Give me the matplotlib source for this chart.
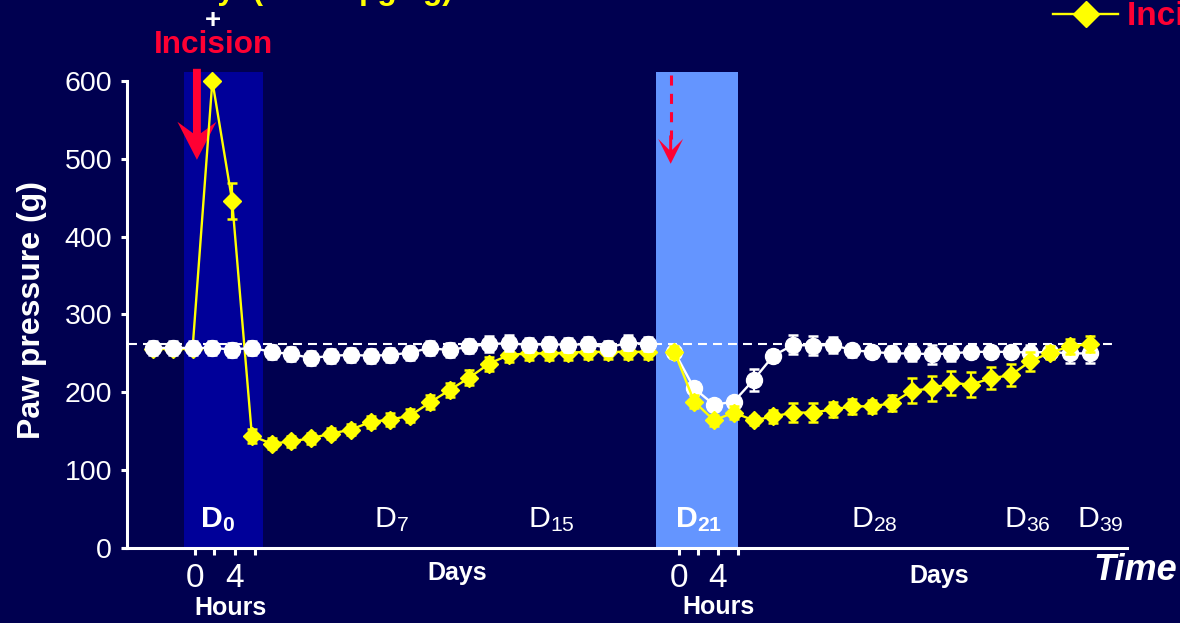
import numpy as np
import matplotlib.pyplot as plt
from matplotlib.patches import FancyArrow

plt.rcParams['font.family'] = ['Liberation Sans', 'DejaVu Sans']
plt.rcParams['mathtext.fontset'] = 'custom'
plt.rcParams['mathtext.rm'] = 'Liberation Sans'
plt.rcParams['mathtext.bf'] = 'Liberation Sans:bold'
plt.rcParams['mathtext.it'] = 'Liberation Sans:italic'

BG = '#000050'
BAND0 = '#000099'
BAND21 = '#6495FF'
RED = '#FF0033'
YEL = '#FFFF00'

# readings, period 1 (hours around D0 then days up to D21)
saline_1 = [257, 257, 257, 257, 255, 257, 252, 249, 244, 247, 248, 247, 248,
            251, 257, 254, 259, 262, 263, 261, 262, 261, 262, 257, 264, 262]
saline_1_err = [9, 9, 9, 9, 9, 9, 9, 9, 9, 9, 9, 9, 9,
                9, 9, 9, 9, 10, 10, 9, 9, 9, 9, 9, 9, 9]
fenta_1 = [256, 256, 256, 600, 446, 144, 134, 137, 141, 147, 152, 162, 165,
           170, 187, 203, 219, 237, 248, 250, 250, 251, 252, 252, 252, 252]
fenta_1_err = [6, 6, 6, 4, 23, 9, 7, 7, 7, 7, 7, 8, 8,
               8, 9, 9, 10, 9, 9, 9, 9, 9, 9, 9, 9, 9]

# readings, period 2 (second incision at D21, up to D39)
saline_2 = [252, 205, 184, 188, 216, 247, 261, 260, 261, 254, 252,
            250, 250, 249, 250, 252, 252, 252, 251, 252, 250, 250]
saline_2_err = [8, 8, 6, 6, 14, 8, 12, 12, 10, 8, 8,
                10, 10, 12, 10, 8, 8, 8, 10, 8, 12, 12]
fenta_2 = [252, 188, 164, 174, 164, 169, 174, 174, 178, 182, 182,
           186, 202, 205, 212, 210, 218, 222, 240, 251, 259, 262]
fenta_2_err = [8, 8, 7, 8, 6, 8, 12, 12, 10, 10, 8,
               10, 16, 16, 16, 16, 14, 14, 12, 8, 10, 10]

baseline = 262
day_labels = [r'$\mathbf{D_{0}}$', r'$\mathrm{D_{7}}$', r'$\mathrm{D_{15}}$',
              r'$\mathbf{D_{21}}$', r'$\mathrm{D_{28}}$', r'$\mathrm{D_{36}}$',
              r'$\mathrm{D_{39}}$']
hour_labels = ['0', '', '4', '']

# x positions: one slot per session, small gap between the two periods
x1 = np.arange(len(saline_1))
x2 = np.arange(len(saline_2)) + 26.36

fig = plt.figure(figsize=(11.8, 6.23), dpi=100)
fig.patch.set_facecolor(BG)
ax = fig.add_axes([0.10424, 0.12039, 0.85085, 0.7684])
ax.set_facecolor(BG)
ax.set_xlim(-1.517, 49.24)
ax.set_ylim(0, 615)


def px(x, y):
    return x / 1180, 1 - y / 623


# shaded incision days
ax.axvspan(1.567, 5.56, ymin=0, ymax=612 / 615, color=BAND0, lw=0, zorder=0)
ax.axvspan(25.43, 29.57, ymin=0, ymax=612 / 615, color=BAND21, lw=0, zorder=0)

ax.axhline(baseline, xmin=0.005, xmax=0.988, color='white', lw=1.5,
           dashes=(4.3, 2.9), zorder=1)

eb = dict(capsize=3.5, capthick=1.8, elinewidth=1.6, lw=1.7)
f1 = ax.errorbar(x1, fenta_1, yerr=fenta_1_err, fmt='-D', color=YEL, ms=9.5,
                 mec=YEL, zorder=3, **eb)
ax.errorbar(x1, saline_1, yerr=saline_1_err, fmt='-o', color='white', ms=11.5,
            mec='white', zorder=4, **eb)
ax.errorbar(x2, saline_2, yerr=saline_2_err, fmt='-o', color='white', ms=11.5,
            mec='white', zorder=3, **eb)
ax.errorbar(x2, fenta_2, yerr=fenta_2_err, fmt='-D', color=YEL, ms=9.5,
            mec=YEL, zorder=4, **eb)

# incision arrows
ax.add_patch(FancyArrow(2.22, 615.6, 0, -116.9, width=0.40, head_width=1.97,
                        head_length=48.8, length_includes_head=True,
                        overhang=0.3, color=RED, lw=0, clip_on=False, zorder=2))
ax.plot([26.17, 26.17], [608, 526], color=RED, lw=2.2,
        dashes=(3.3, 2.7), zorder=2)
ax.add_patch(FancyArrow(26.17, 530, 0, -36.4, width=0.15, head_width=1.26,
                        head_length=32, length_includes_head=True,
                        overhang=0.44, color=RED, lw=0, zorder=2))

# axes styling
for s in ['top', 'right']:
    ax.spines[s].set_visible(False)
ax.spines['left'].set_position(('data', -1.314))
ax.spines['left'].set_bounds(0, 600)
for s in ['left', 'bottom']:
    ax.spines[s].set_color('white')
    ax.spines[s].set_linewidth(2.2)
ax.set_yticks(np.arange(0, 601, 100))
ax.tick_params(axis='y', colors='white', labelsize=20.5, width=2.2,
               length=4.3, pad=6.5)
ax.set_xticks([2.12, 3.1, 4.12, 5.15, 26.6, 27.55, 28.55, 29.55])
ax.set_xticklabels(hour_labels * 2)
ax.tick_params(axis='x', colors='white', labelsize=24, width=2.2,
               length=5, pad=6)

ax.set_ylabel('Paw pressure (g)', color='white', fontsize=23,
              fontweight='bold', va='center')
ax.yaxis.set_label_coords(-0.0906, 0.497)

# day markers inside the plot
day_x = [3.26, 12.06, 20.15, 27.6, 36.45, 44.2, 47.9]
for lx, lab in zip(day_x, day_labels):
    ax.text(lx, 27, lab, color='white', fontsize=21.8, ha='center',
            va='baseline')

# labels below the axis
for hx, hy in [(231, 608), (718, 607)]:
    fig.text(*px(hx, hy), 'Hours', color='white', fontsize=18,
             fontweight='bold', ha='center', va='center')
for dx, dy in [(457.5, 573), (938.7, 576)]:
    fig.text(*px(dx, dy), 'Days', color='white', fontsize=18,
             fontweight='bold', ha='center', va='center')
fig.text(*px(1093, 571), 'Time', color='white', fontsize=26,
         fontweight='bold', style='italic', ha='left', va='center')

# header
fig.text(*px(114, -1.5), 'Fentanyl (4x100 µg/kg)', color=YEL, fontsize=22.7,
         fontweight='bold', ha='left', va='baseline')
fig.text(*px(213, 27.5), '+', color='white', fontsize=20,
         fontweight='bold', ha='center', va='baseline')
fig.text(*px(213, 53), 'Incision', color=RED, fontsize=22.7,
         fontweight='bold', ha='center', va='baseline')

fig.legend(handles=[f1[0]], labels=['Incision + Fentanyl'], loc='center left',
           bbox_to_anchor=px(1053, 17), frameon=False, borderpad=0,
           borderaxespad=0, handlelength=1.95, handletextpad=0.27,
           markerscale=1.4, prop=dict(weight='bold', size=24),
           labelcolor=RED)

fig.savefig('out.png', dpi=100, facecolor=BG)
